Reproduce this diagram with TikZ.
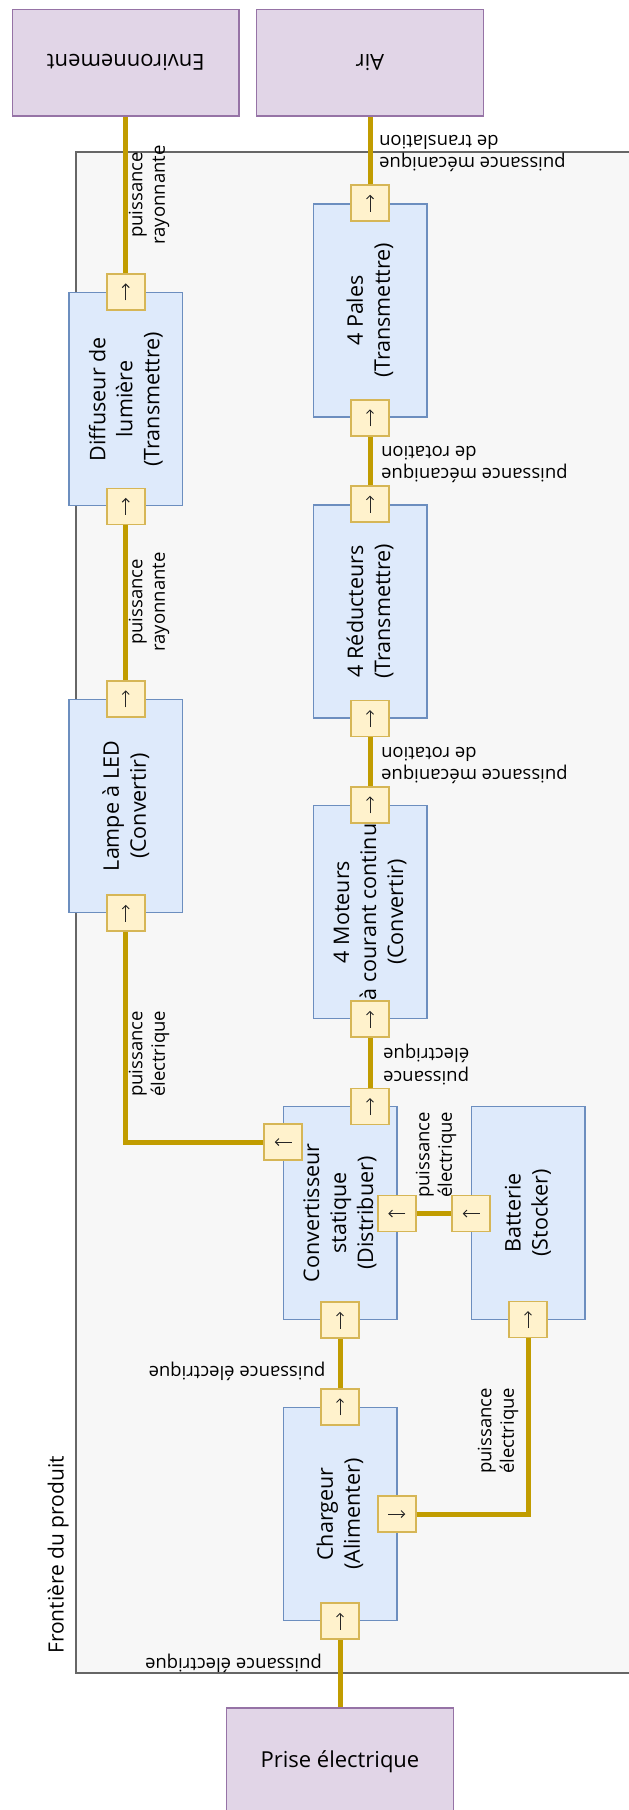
\documentclass[tikz,border=0pt]{standalone}
\usepackage{fontspec}
\setmainfont{Open Sans}
\usetikzlibrary{arrows.meta}
\definecolor{purplefill}{HTML}{E1D5E7}
\definecolor{purpledraw}{HTML}{9673A6}
\definecolor{bluefill}{HTML}{DEEAFB}
\definecolor{bluedraw}{HTML}{6C8EBF}
\definecolor{portfill}{HTML}{FFF2CC}
\definecolor{portdraw}{HTML}{D6B656}
\definecolor{flow}{HTML}{C19C00}
\definecolor{frontfill}{HTML}{F7F7F7}
\definecolor{frontdraw}{HTML}{666666}
\begin{document}
\begin{tikzpicture}[x=1pt,y=-1pt,
  ext/.style={draw=purpledraw, fill=purplefill, line width=1.5pt, minimum width=226.7pt, minimum height=106.7pt, inner sep=0pt, font=\fontsize{22}{27}\selectfont},
  exttext/.style={rotate=180, inner sep=0pt, font=\fontsize{22}{27}\selectfont},
  blk/.style={draw=bluedraw, fill=bluefill, line width=1.5pt, minimum width=113.5pt, minimum height=213pt, inner sep=0pt},
  blktext/.style={rotate=90, align=center, font=\fontsize{21.5}{27}\selectfont, inner sep=0pt},
  port/.style={draw=portdraw, fill=portfill, line width=1.8pt, minimum width=38pt, minimum height=36pt, inner sep=0pt},
  parrow/.style={draw=black!85, line width=1pt, -{Straight Barb[length=3.5pt,width=7pt]}},
  portup/.style={port, path picture={\draw[parrow] ([yshift=-8.5pt]path picture bounding box.center) -- ([yshift=8.5pt]path picture bounding box.center);}},
  portleft/.style={port, path picture={\draw[parrow] ([xshift=8.5pt]path picture bounding box.center) -- ([xshift=-8.5pt]path picture bounding box.center);}},
  portright/.style={port, path picture={\draw[parrow] ([xshift=-8.5pt]path picture bounding box.center) -- ([xshift=8.5pt]path picture bounding box.center);}},
  flowline/.style={draw=flow, line width=5pt},
  lbl/.style={font=\fontsize{18.5}{22.5}\selectfont, inner sep=0pt},
  frontier/.style={draw=frontdraw, fill=frontfill, line width=2pt, inner sep=0pt, minimum width=580pt, minimum height=1521pt},
]
\useasboundingbox (0,0) rectangle (629,1810);
% frontier
\node[frontier] (frontiere) at (366,912.5) {};
\node[lbl, rotate=90, anchor=west, font=\fontsize{21}{26}\selectfont] (frontlbl) at (58,1654) {Frontière du produit};
% external
\node[ext] (env) at (125.75,62.65) {};
\node[exttext] (envT) at (env.center) {Environnement};
\node[ext] (air) at (370,62.65) {};
\node[exttext] (airT) at (air.center) {Air};
\node[ext] (prise) at (340,1761.5) {Prise électrique};
% blocks
\node[blk] (diff) at (125.75,399.2) {};
\node[blk] (lamp) at (125.75,806) {};
\node[blk] (pale) at (370,310.5) {};
\node[blk] (redu) at (370,611.3) {};
\node[blk] (moto) at (370,912) {};
\node[blk] (conv) at (340,1213) {};
\node[blk] (batt) at (528,1213) {};
\node[blk] (charg) at (340,1514) {};
\node[blktext] (diffT) at (diff.center) {Diffuseur de\\lumière\\(Transmettre)};
\node[blktext] (lampT) at (lamp.center) {Lampe à LED\\(Convertir)};
\node[blktext] (paleT) at (pale.center) {4 Pales\\(Transmettre)};
\node[blktext] (reduT) at (redu.center) {4 Réducteurs\\(Transmettre)};
\node[blktext] (motoT) at (moto.center) {4 Moteurs\\à courant continu\\(Convertir)};
\node[blktext] (convT) at (conv.center) {Convertisseur\\statique\\(Distribuer)};
\node[blktext] (battT) at (batt.center) {Batterie\\(Stocker)};
\node[blktext] (chargT) at (charg.center) {Chargeur\\(Alimenter)};
% ports
\node[portup] (diT) at (diff.north) {};
\node[portup] (diB) at (diff.south) {};
\node[portup] (laT) at (lamp.north) {};
\node[portup] (laB) at (lamp.south) {};
\node[portup] (paT) at (pale.north) {};
\node[portup] (paB) at (pale.south) {};
\node[portup] (reT) at (redu.north) {};
\node[portup] (reB) at (redu.south) {};
\node[portup] (moT) at (moto.north) {};
\node[portup] (moB) at (moto.south) {};
\node[portup] (cvT) at (370,1106.5) {};
\node[portleft] (cvL) at (283.25,1142) {};
\node[portleft] (cvR) at (396.75,1213.5) {};
\node[portup] (cvB) at (conv.south) {};
\node[portleft] (btL) at (471.25,1213.5) {};
\node[portup] (btB) at (528,1319.5) {};
\node[portup] (chT) at (charg.north) {};
\node[portright] (chR) at (396.75,1514) {};
\node[portup] (chB) at (charg.south) {};
% connectors
\draw[flowline] (prise.north) -- (chB.south);
\draw[flowline] (chT.north) -- (cvB.south);
\draw[flowline] (chR.east) -| (btB.south);
\draw[flowline] (btL.west) -- (cvR.east);
\draw[flowline] (cvL.west) -| (laB.south);
\draw[flowline] (cvT.north) -- (moB.south);
\draw[flowline] (moT.north) -- (reB.south);
\draw[flowline] (reT.north) -- (paB.south);
\draw[flowline] (paT.north) -- (air.south);
\draw[flowline] (laT.north) -- (diB.south);
\draw[flowline] (diT.north) -- (env.south);
% labels
\node[lbl, rotate=90, align=center] (l1) at (149,195) {puissance\\rayonnante};
\node[lbl, rotate=180, align=right, anchor=east] (l2) at (379,153.5) {puissance mécanique\\de translation};
\node[lbl, rotate=180, align=right, anchor=east] (l3) at (381,464.5) {puissance mécanique\\de rotation};
\node[lbl, rotate=90, align=center] (l4) at (149,602) {puissance\\rayonnante};
\node[lbl, rotate=180, align=right, anchor=east] (l5) at (381,765.5) {puissance mécanique\\de rotation};
\node[lbl, rotate=180, align=right, anchor=east] (l6) at (383,1064.5) {puissance\\électrique};
\node[lbl, rotate=90, align=left, anchor=west] (l7) at (149,1097) {puissance\\électrique};
\node[lbl, rotate=90, align=left, anchor=west] (l8) at (436,1198) {puissance\\électrique};
\node[lbl, rotate=180] (l9) at (237,1371) {puissance électrique};
\node[lbl, rotate=90, align=left, anchor=west] (l10) at (498,1474) {puissance\\électrique};
\node[lbl, rotate=180] (l11) at (233.5,1663) {puissance électrique};
\end{tikzpicture}
\end{document}
